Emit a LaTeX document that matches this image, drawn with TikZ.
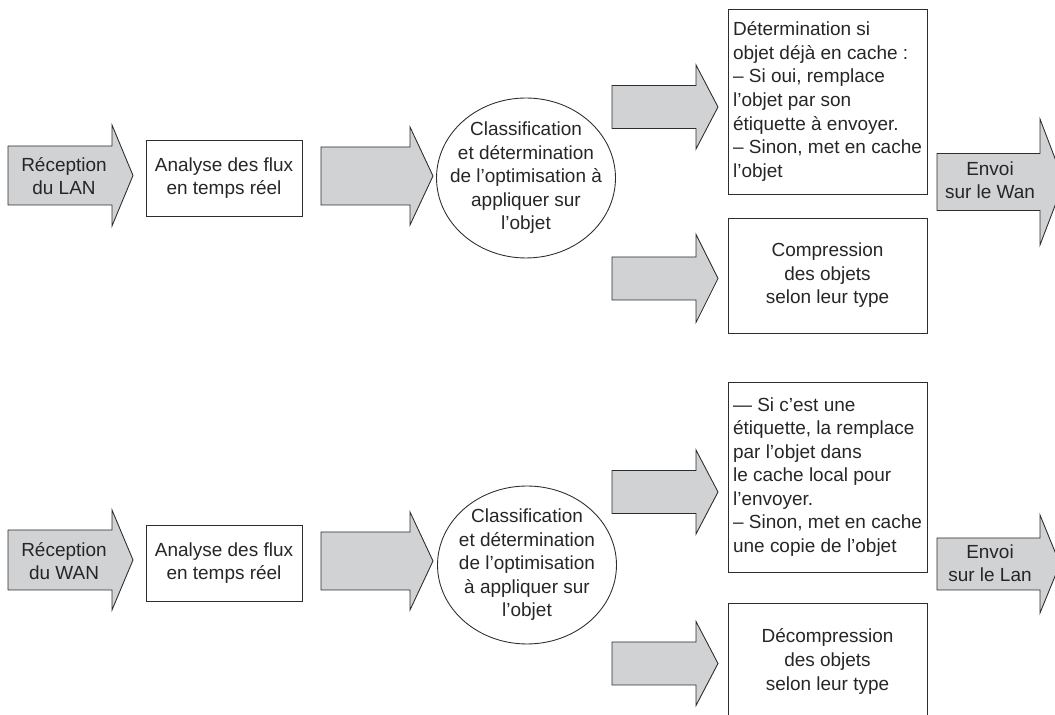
\documentclass[tikz,border=0pt]{standalone}
\usepackage{fontspec}
\setmainfont{Liberation Sans}
\usepackage{xcolor}
\definecolor{arrgray}{RGB}{209,210,212}
\definecolor{edgegray}{RGB}{45,45,45}

% x0, head base, tip, middle y, body half, head half
\newcommand{\fatarrow}[6]{%
  \draw[fatarr] (#1,#4-#5) -- (#2,#4-#5) -- (#2,#4-#6) -- (#3,#4)
    -- (#2,#4+#6) -- (#2,#4+#5) -- (#1,#4+#5) -- cycle;}

\begin{document}
\begin{tikzpicture}[x=0.02cm, y=-0.02cm, font=\fontsize{10.8}{13.4}\selectfont, text=black!85,
    box/.style = {draw=edgegray, line width=0.5pt, minimum width=3.12cm, minimum height=1.52cm, align=center, inner sep=0pt},
    blobline/.style = {draw=edgegray, line width=0.5pt},
    bigbox/.style = {draw=edgegray, line width=0.5pt, minimum width=3.98cm, align=left, inner sep=0pt},
    fatarr/.style = {draw=edgegray, fill=arrgray, line width=0.5pt},
    lbl/.style = {align=center, inner sep=0pt}]
    \useasboundingbox (0,0) rectangle (1055,715);
    \clip (0,0) rectangle (1055,715);

    % LAN vers WAN
    \fatarrow{8}{112}{133}{175.5}{29.5}{50.5}
    \node [lbl] (recLAN) at (64,176) {Réception\\du LAN};
    \node [box] (anaT) at (224,178) {Analyse des flux\\en temps réel};
    \fatarrow{321}{410}{433}{176}{29}{49}
    \node [lbl] (classT) at (526,178) {Classification\\et détermination\\de l’optimisation à\\appliquer sur\\l’objet};
    \draw [blobline] (classT.center) ellipse [x radius=1.79cm, y radius=1.6cm];
    \fatarrow{612}{696}{718}{107}{21.5}{42}
    \fatarrow{612}{696}{718}{278.5}{21.5}{44}
    \node [bigbox, minimum height=3.7cm] (cacheT) at (827.5,101.5) {Détermination si\\objet déjà en cache :\\– Si oui, remplace\\l’objet par son\\étiquette à envoyer.\\– Sinon, met en cache\\l’objet};
    \node [bigbox, align=center, minimum height=2.3cm] (compT) at (827.5,275.5) {Compression\\des objets\\selon leur type};
    \fatarrow{937}{1040}{1064}{182}{28.5}{63}
    \node [lbl] (sendWAN) at (990,180) {Envoi\\sur le Wan};

    % WAN vers LAN
    \fatarrow{8}{112}{133}{560}{30}{50}
    \node [lbl] (recWAN) at (64,561) {Réception\\du WAN};
    \node [box] (anaB) at (224,563) {Analyse des flux\\en temps réel};
    \fatarrow{321}{410}{433}{561}{29}{49}
    \node [lbl] (classB) at (527,565) {Classification\\et détermination\\de l’optimisation\\à appliquer sur\\l’objet};
    \draw [blobline] (classB.center) ellipse [x radius=1.79cm, y radius=1.58cm];
    \fatarrow{612}{696}{718}{492}{21.5}{42}
    \fatarrow{612}{696}{718}{663.5}{21.5}{42}
    \node [bigbox, minimum height=3.8cm] (cacheB) at (827.5,477) {— Si c’est une\\étiquette, la remplace\\par l’objet dans\\le cache local pour\\l’envoyer.\\– Sinon, met en cache\\une copie de l’objet};
    \node [bigbox, align=center, minimum height=2.34cm] (decompB) at (827.5,661.5) {Décompression\\des objets\\selon leur type};
    \fatarrow{937}{1040}{1060}{564}{26}{49}
    \node [lbl] (sendLAN) at (990,563) {Envoi\\sur le Lan};
\end{tikzpicture}
\end{document}
